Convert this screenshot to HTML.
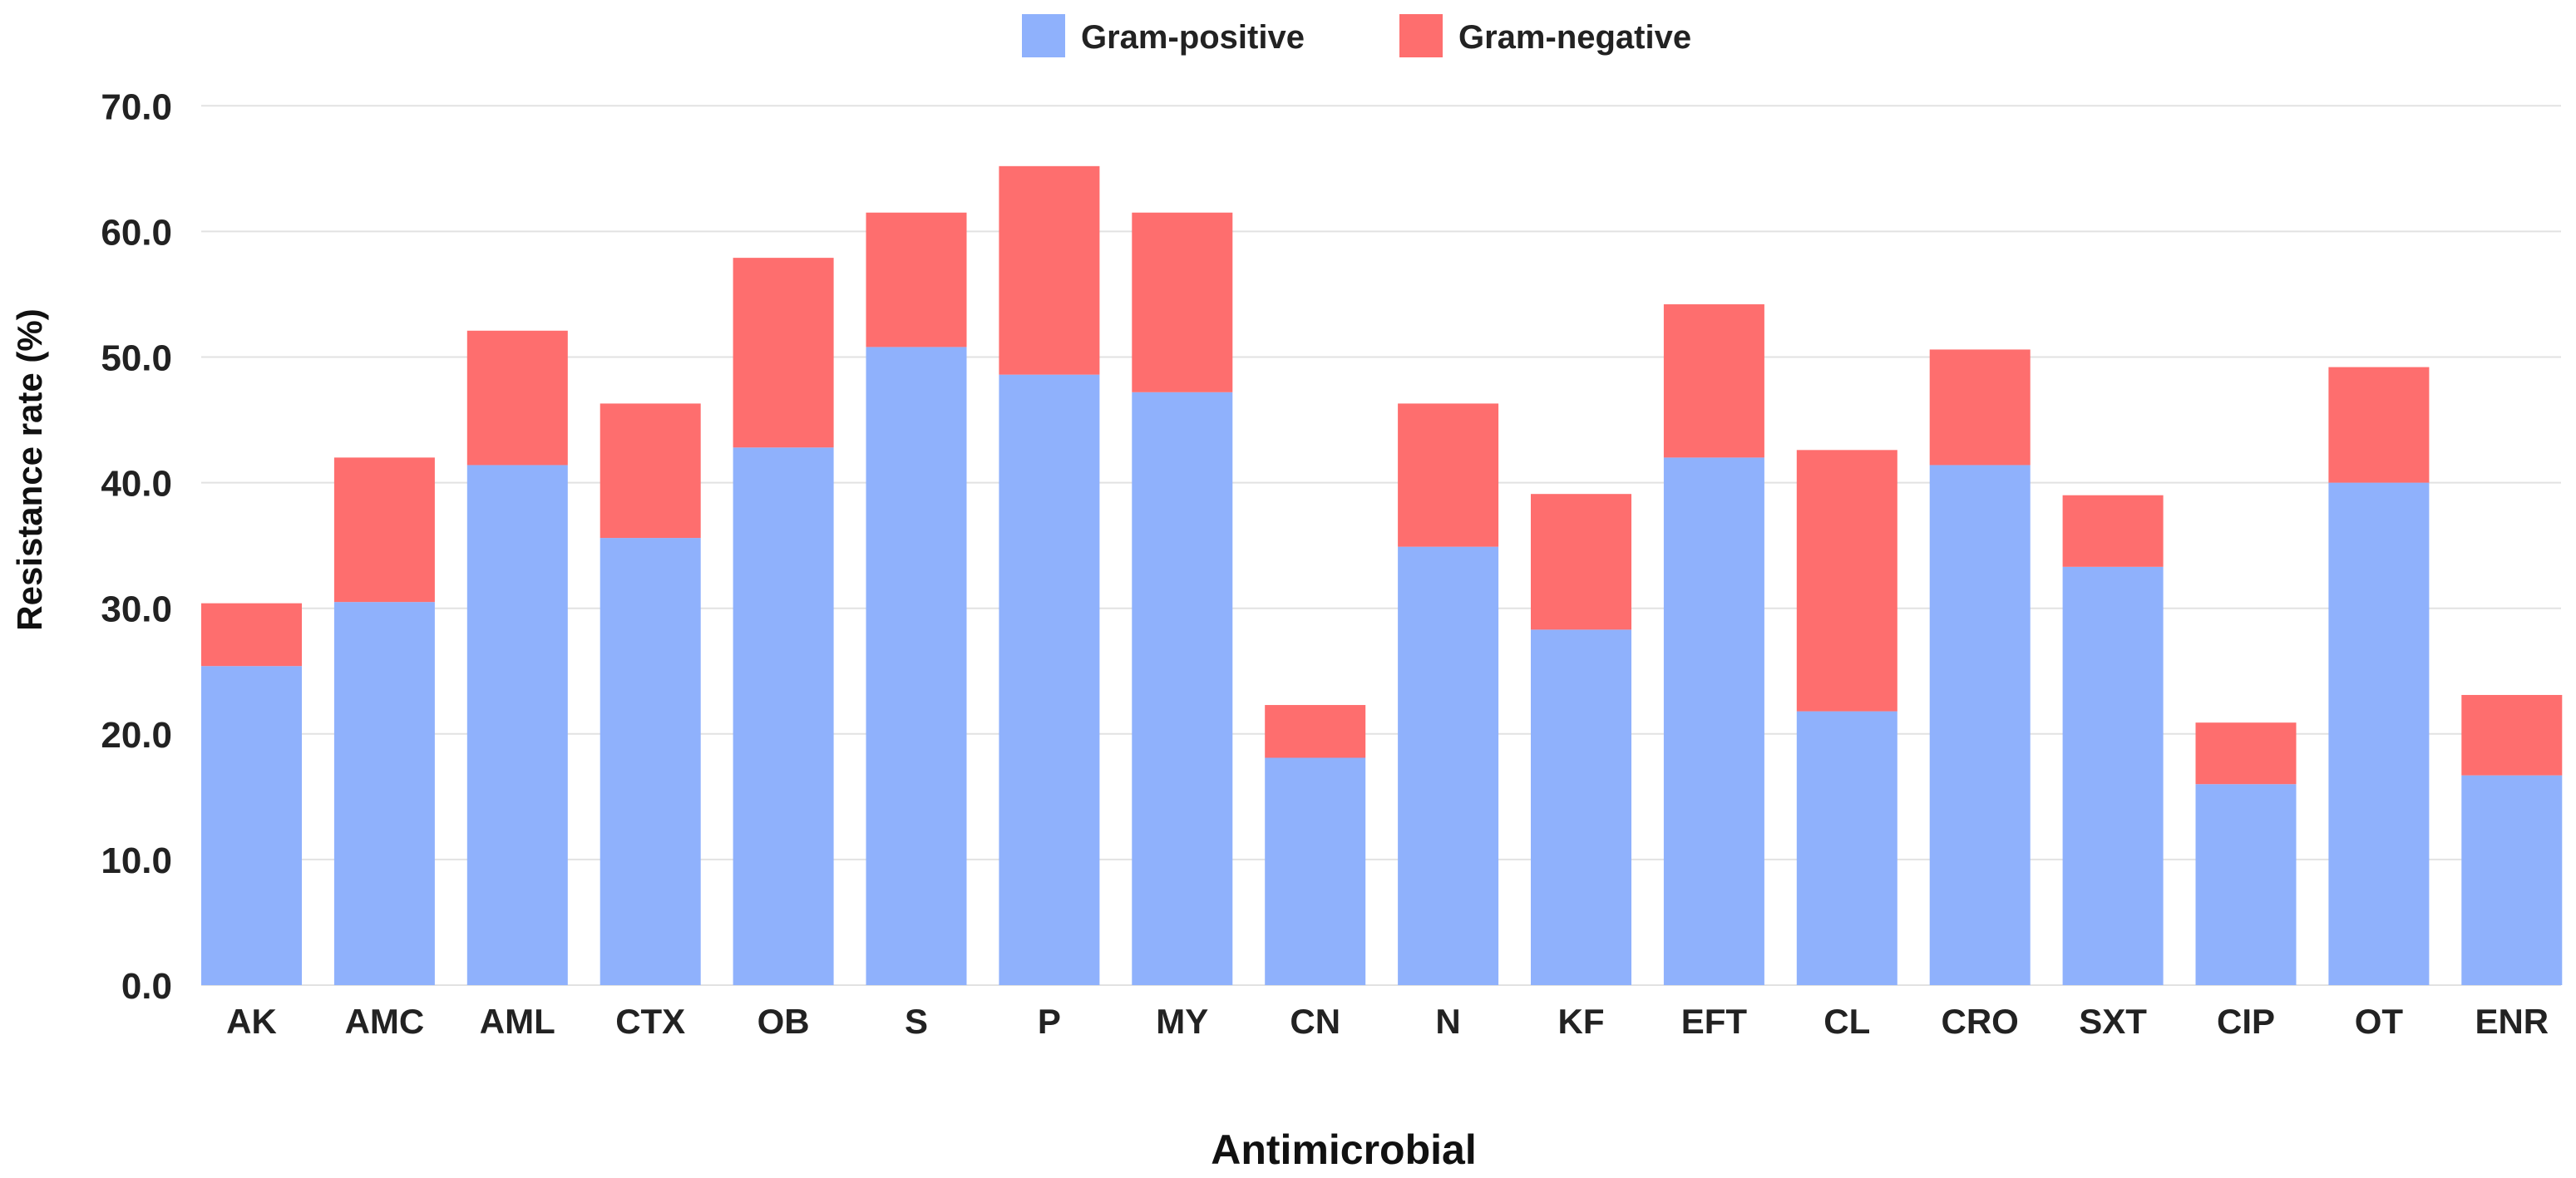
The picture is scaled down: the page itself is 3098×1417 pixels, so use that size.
<!DOCTYPE html>
<html>
<head>
<meta charset="utf-8">
<style>
  html,body{margin:0;padding:0;background:#fff;width:3098px;height:1417px;overflow:hidden;}
  svg{display:block;font-family:"Liberation Sans",Arial,sans-serif;}
</style>
</head>
<body>
<svg id="chart-svg" width="3098" height="1417" viewBox="0 0 3098 1417" xmlns="http://www.w3.org/2000/svg">
  <g id="grid-layer"></g>
  <g id="bar-layer"></g>
  <g id="ytick-layer"></g>
  <g id="xtick-layer"></g>
  <g>
    <rect x="1229" y="17" width="52" height="52" fill="#8fb1fc"/>
    <text x="1300" y="58" font-size="40" font-weight="bold" fill="#222">Gram-positive</text>
    <rect x="1683" y="17" width="52" height="52" fill="#fe6e6e"/>
    <text x="1754" y="58" font-size="40" font-weight="bold" fill="#222">Gram-negative</text>
  </g>
  <text transform="translate(50,565) rotate(-90)" text-anchor="middle" font-size="42" font-weight="bold" fill="#111">Resistance rate (%)</text>
  <text x="1616" y="1400" text-anchor="middle" font-size="50" font-weight="bold" fill="#111">Antimicrobial</text>
</svg>
<script>
var categories = ["AK","AMC","AML","CTX","OB","S","P","MY","CN","N","KF","EFT","CL","CRO","SXT","CIP","OT","ENR"];
var gramPositive = [25.4,30.5,41.4,35.6,42.8,50.8,48.6,47.2,18.1,34.9,28.3,42.0,21.8,41.4,33.3,16.0,40.0,16.7];
var totalRate = [30.4,42.0,52.1,46.3,57.9,61.5,65.2,61.5,22.3,46.3,39.1,54.2,42.6,50.6,39.0,20.9,49.2,23.1];
var yTickValues = [0,10,20,30,40,50,60,70];
var yTickLabels = ["0.0","10.0","20.0","30.0","40.0","50.0","60.0","70.0"];

(function(){
  var NS = "http://www.w3.org/2000/svg";
  var PLOT_LEFT = 242, PLOT_RIGHT = 3080, BASE_Y = 1185, TOP_Y = 127.3;
  var Y_MAX = 70;
  var BAND = 159.9, BAR_W = 121;
  function yPix(v){
    var n = parseFloat(v);
    if (!isFinite(n)) n = 0;
    if (n < 0) n = 0;
    if (n > Y_MAX) n = Y_MAX;
    return BASE_Y - (n / Y_MAX) * (BASE_Y - TOP_Y);
  }
  function xPix(i){ return PLOT_LEFT + i * BAND; }
  function mk(tag, attrs){
    var e = document.createElementNS(NS, tag);
    for (var k in attrs) e.setAttribute(k, String(attrs[k]));
    return e;
  }
  var gridLayer = document.getElementById('grid-layer');
  var ytLayer = document.getElementById('ytick-layer');
  for (var t = 0; t < yTickValues.length; t++) {
    var gy = yPix(yTickValues[t]);
    var l = mk('line', {x1: PLOT_LEFT, x2: PLOT_RIGHT, y1: gy, y2: gy, stroke: '#e2e2e2', 'stroke-width': 2});
    
    
    gridLayer.appendChild(l);
    var tx = mk('text', {x: 207, y: gy + 16, 'text-anchor': 'end', 'font-size': 44, 'font-weight': 'bold', fill: '#222'});
    tx.textContent = yTickLabels[t];
    
    
    ytLayer.appendChild(tx);
  }
  var barLayer = document.getElementById('bar-layer');
  var xtLayer = document.getElementById('xtick-layer');
  for (var i = 0; i < categories.length; i++) {
    var bx = xPix(i);
    var posTop = yPix(gramPositive[i]);
    var totTop = yPix(totalRate[i]);
    var b = mk('rect', {x: bx, y: posTop, width: BAR_W, height: Math.max(0, BASE_Y - posTop), fill: '#8fb1fc'});
    
    
    barLayer.appendChild(b);
    var r = mk('rect', {x: bx, y: totTop, width: BAR_W, height: Math.max(0, posTop - totTop), fill: '#fe6e6e'});
    
    
    barLayer.appendChild(r);
    var lx = mk('text', {x: bx + BAR_W / 2, y: 1243, 'text-anchor': 'middle', 'font-size': 42, 'font-weight': 'bold', fill: '#222'});
    lx.textContent = categories[i];
    
    
    xtLayer.appendChild(lx);
  }
})();
</script>
</body>
</html>
